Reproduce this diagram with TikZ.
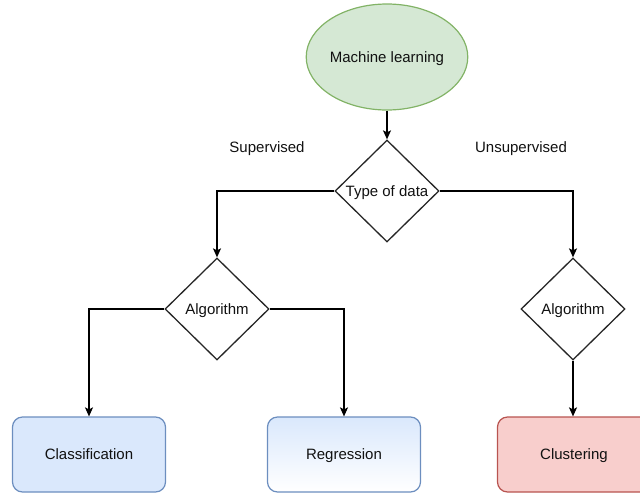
\documentclass[tikz,border=0pt]{standalone}
\usepackage{fontspec}
\setmainfont{Liberation Sans}
\usetikzlibrary{shapes.geometric,arrows.meta}
\definecolor{mlfill}{HTML}{D5E8D4}
\definecolor{mlline}{HTML}{82B366}
\definecolor{bluefill}{HTML}{DAE8FC}
\definecolor{blueline}{HTML}{6C8EBF}
\definecolor{redfill}{HTML}{F8CECC}
\definecolor{redline}{HTML}{B85450}
\definecolor{txt}{HTML}{111111}
\tikzset{
  lbl/.style={font=\fontsize{15}{18}\selectfont, text=txt, text depth=0pt},
  decision/.style={lbl, shape=diamond, draw=black!85, line width=1.3pt, fill=white,
    minimum width=104pt, minimum height=102pt, inner sep=0pt},
  outcome/.style={lbl, rectangle, rounded corners=10pt, line width=1.2pt,
    minimum width=153pt, minimum height=75pt, inner sep=0pt},
  flow/.style={line width=1.3pt, draw=black, -{Stealth[length=9pt,width=8pt,inset=2pt]}}
}
\begin{document}
\begin{tikzpicture}[x=1pt,y=-1pt]
  \useasboundingbox (0,0) rectangle (640,493);
  \clip (0,0) rectangle (640,493);

  % root
  \node[lbl, ellipse, draw=mlline, fill=mlfill, line width=1.2pt,
        minimum width=154pt, minimum height=106pt, inner sep=0pt] (ml) at (387,57) {Machine learning};

  % decisions
  \node[decision] (tod)  at (387,191) {Type of data};
  \node[decision] (algS) at (217,309) {Algorithm};
  \node[decision] (algU) at (573,309) {Algorithm};

  % leaves
  \node[outcome, draw=blueline, fill=bluefill] (cls) at (89,454.5) {Classification};
  \node[outcome, draw=blueline, top color=bluefill, bottom color=white] (reg) at (344,454.5) {Regression};
  \node[outcome, draw=redline, fill=redfill] (clu) at (574,454.5) {Clustering};

  % branch labels
  \node[lbl] (sup)   at (267,147) {Supervised};
  \node[lbl] (unsup) at (521,147) {Unsupervised};

  % connectors
  \draw[flow] (ml) -- (tod);
  \draw[flow] (tod.west) -| (algS.north);
  \draw[flow] (tod.east) -| (algU.north);
  \draw[flow] (algS.west) -| (cls.north);
  \draw[flow] (algS.east) -| (reg.north);
  \draw[flow] (algU.south) -- (algU.south |- clu.north);
\end{tikzpicture}
\end{document}
